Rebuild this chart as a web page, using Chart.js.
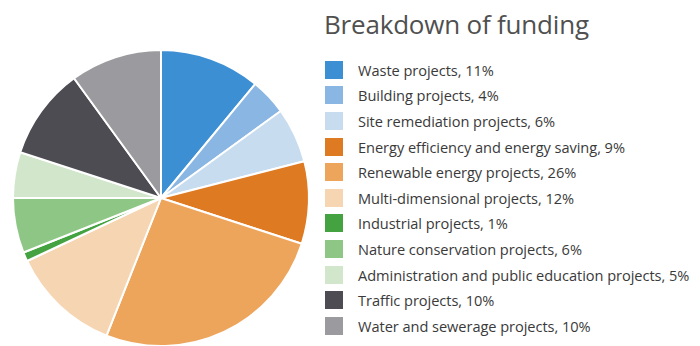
<!DOCTYPE html>
<html>
<head>
<meta charset="utf-8">
<script src="https://cdn.jsdelivr.net/npm/chart.js@4"></script>
<style>
  body { margin: 0; background: #fff; width: 700px; height: 346px; overflow: hidden; position: relative; font-family: "Open Sans", sans-serif; }
  #pie { position: absolute; left: 11px; top: 48px; }
  #titulo { position: absolute; left: 324px; top: 6px; font-size: 26px; color: #505050; letter-spacing: -0.2px; }
  #legenda { position: absolute; left: 325px; top: 57px; margin: 0; padding: 0; list-style: none; }
  #legenda li { height: 25.6px; display: flex; align-items: center; font-size: 14.6px; color: #3a3a3a; letter-spacing: -0.05px; white-space: nowrap; }
  #legenda span.caixa { width: 18px; height: 18px; margin-right: 15px; display: inline-block; }
</style>
</head>
<body>
<div id="titulo">Breakdown of funding</div>
<ul id="legenda"></ul>
<canvas id="pie" width="300" height="300"></canvas>
<script>
const categorias = [
  "Waste projects",
  "Building projects",
  "Site remediation projects",
  "Energy efficiency and energy saving",
  "Renewable energy projects",
  "Multi-dimensional projects",
  "Industrial projects",
  "Nature conservation projects",
  "Administration and public education projects",
  "Traffic projects",
  "Water and sewerage projects",
];
const percentuais = [11, 4, 6, 9, 26, 12, 1, 6, 5, 10, 10];
const cores = [
  "#3d8fd4",
  "#8ab6e3",
  "#c8dcf0",
  "#de7a22",
  "#eda55c",
  "#f6d6b2",
  "#45a240",
  "#8ec785",
  "#d2e6cc",
  "#4c4c52",
  "#9b9b9f",
];

const legenda = document.getElementById("legenda");
categorias.forEach((nome, i) => {
  const li = document.createElement("li");
  li.innerHTML = `<span class="caixa" style="background:${cores[i]}"></span>${nome}, ${percentuais[i]}%`;
  legenda.appendChild(li);
});

const ctx = document.getElementById("pie").getContext("2d");
new Chart(ctx, {
  type: "pie",
  data: {
    labels: categorias,
    datasets: [
      {
        data: percentuais,
        backgroundColor: cores,
        borderColor: "#fff",
        borderWidth: 2,
      },
    ],
  },
  options: {
    responsive: false,
    animation: false,
    layout: { padding: 1 },
    plugins: {
      legend: { display: false },
      tooltip: { enabled: false },
    },
  },
});
</script>
</body>
</html>
